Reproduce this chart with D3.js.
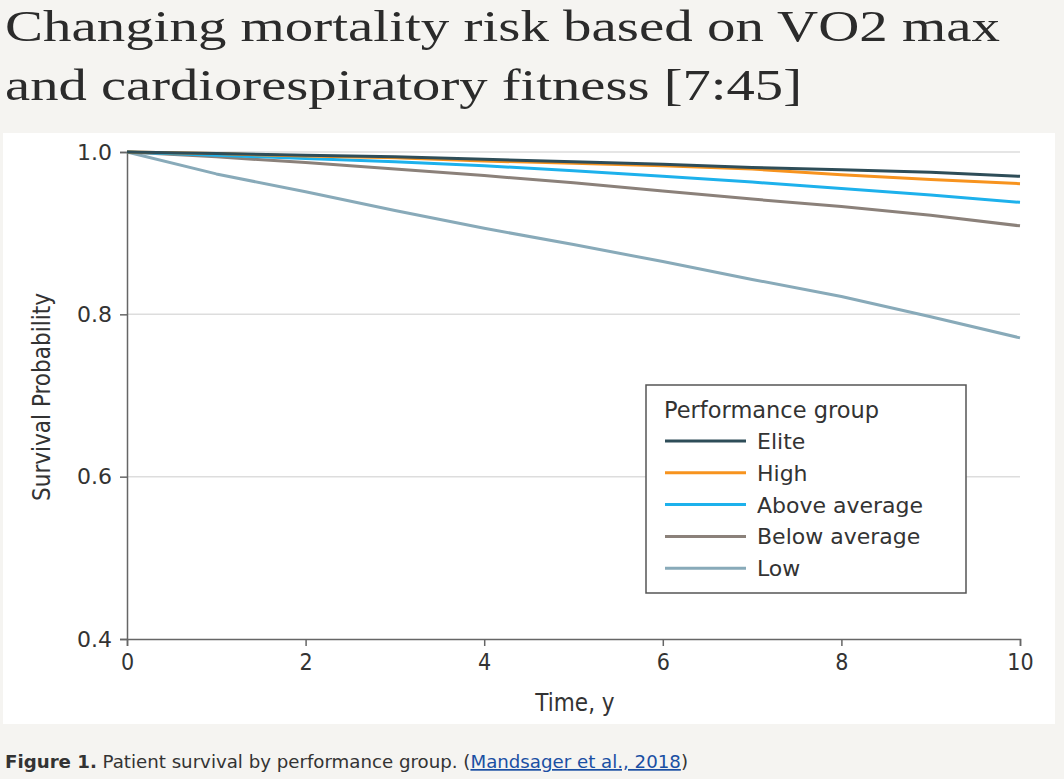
<!DOCTYPE html>
<html><head><meta charset="utf-8">
<script src="https://cdn.jsdelivr.net/npm/d3@7"></script>
<style>body{margin:0;background:#f5f4f1;}svg{display:block;}</style>
</head><body>
<svg id="chart" width="1064" height="779"></svg>
<script>
const titleLines = ["Changing mortality risk based on VO2 max", "and cardiorespiratory fitness [7:45]"];
const years = [0, 1, 2, 3, 4, 5, 6, 7, 8, 9, 10];
const groups = ["Elite", "High", "Above average", "Below average", "Low"];
const colors = ["#2e4d58", "#f7931e", "#1db1ec", "#8b817a", "#88aab9"];
const elite = [1.0, 0.998, 0.996, 0.994, 0.991, 0.988, 0.985, 0.981, 0.978, 0.975, 0.970];
const high  = [1.0, 0.998, 0.995, 0.993, 0.989, 0.986, 0.983, 0.979, 0.972, 0.966, 0.961];
const above = [1.0, 0.996, 0.992, 0.988, 0.983, 0.977, 0.970, 0.963, 0.955, 0.947, 0.938];
const below = [1.0, 0.994, 0.987, 0.979, 0.971, 0.962, 0.952, 0.942, 0.933, 0.922, 0.909];
const low   = [1.0, 0.973, 0.951, 0.928, 0.906, 0.886, 0.865, 0.843, 0.822, 0.797, 0.771];
const seriesValues = [elite, high, above, below, low];
const xTicks = [0, 2, 4, 6, 8, 10];
const yTicks = [0.4, 0.6, 0.8, 1.0];

const svg = d3.select("#chart");
svg.append("rect").attr("x",0).attr("y",0).attr("width",1064).attr("height",779).attr("fill","#f5f4f1");
svg.append("rect").attr("x",3).attr("y",133).attr("width",1052).attr("height",591).attr("fill","#ffffff");

// title
titleLines.forEach((t,i)=>{
  svg.append("text").attr("x",5).attr("y",[41,100][i])
    .attr("font-family","Liberation Serif, serif").attr("font-size",45)
    .attr("fill","#2b2b2b")
    .attr("textLength", i===0 ? 995 : 797).attr("lengthAdjust","spacingAndGlyphs")
    .text(t);
});

const x = d3.scaleLinear().domain([0,10]).range([127,1020]);
const y = d3.scaleLinear().domain([0.4,1.0]).range([639,152]);

// grid
svg.append("g").selectAll("line").data(yTicks.filter(d=>d>0.4)).join("line")
  .attr("x1",x(0)).attr("x2",x(10)).attr("y1",d=>y(d)).attr("y2",d=>y(d))
  .attr("stroke","#dddddd").attr("stroke-width",1.5);

// axes
const yAxis = d3.axisLeft(y).tickValues(yTicks).tickFormat(d3.format(".1f")).tickSize(7).tickPadding(8);
const gy = svg.append("g").attr("transform",`translate(${x(0)},0)`).call(yAxis);
gy.select(".domain").attr("stroke","#666").attr("stroke-width",1.5);
gy.selectAll(".tick line").attr("stroke","#666").attr("stroke-width",1.5);
gy.selectAll(".tick text").attr("font-family","DejaVu Sans, sans-serif").attr("font-size",22).attr("fill","#333");

const xAxis = d3.axisBottom(x).tickValues(xTicks).tickFormat(d3.format("d")).tickSize(7).tickPadding(8);
const gx = svg.append("g").attr("transform",`translate(0,${y(0.4)})`).call(xAxis);
gx.select(".domain").attr("stroke","#666").attr("stroke-width",1.5);
gx.selectAll(".tick line").attr("stroke","#666").attr("stroke-width",1.5);
gx.selectAll(".tick text").attr("font-family","DejaVu Sans Condensed, sans-serif").attr("font-size",23).attr("fill","#333");

svg.append("text").attr("x",575).attr("y",711).attr("text-anchor","middle")
  .attr("font-family","DejaVu Sans Condensed, sans-serif").attr("font-size",24).attr("fill","#333").text("Time, y");
svg.append("text").attr("transform","translate(50,397) rotate(-90)").attr("text-anchor","middle")
  .attr("font-family","DejaVu Sans Condensed, sans-serif").attr("font-size",24).attr("fill","#333").text("Survival Probability");

// lines
const line = d3.line().x(d=>x(d[0])).y(d=>y(d[1]));
for (let i = groups.length-1; i >= 0; i--) {
  const pts = years.map((t,j)=>[t, seriesValues[i][j]]);
  svg.append("path").datum(pts).attr("d", line)
    .attr("fill","none").attr("stroke",colors[i]).attr("stroke-width",3).attr("stroke-linejoin","round");
}

// legend
const lg = svg.append("g");
lg.append("rect").attr("x",646).attr("y",385).attr("width",320).attr("height",208)
  .attr("fill","#fff").attr("stroke","#555").attr("stroke-width",1.5);
lg.append("text").attr("x",664).attr("y",418).attr("font-family","DejaVu Sans, sans-serif")
  .attr("font-size",22.5).attr("fill","#333").text("Performance group");
groups.forEach((g,i)=>{
  const yy = 441 + i*31.8;
  lg.append("line").attr("x1",665).attr("x2",746).attr("y1",yy).attr("y2",yy)
    .attr("stroke",colors[i]).attr("stroke-width",3);
  lg.append("text").attr("x",757).attr("y",yy+8).attr("font-family","DejaVu Sans, sans-serif")
    .attr("font-size",22).attr("fill","#333").text(g);
});

// caption
const cap = svg.append("text").attr("x",5).attr("y",768)
  .attr("font-family","DejaVu Sans Condensed, sans-serif").attr("font-size",17).attr("fill","#333")
  .attr("textLength",683).attr("lengthAdjust","spacingAndGlyphs");
cap.append("tspan").attr("font-weight","bold").text("Figure 1.");
cap.append("tspan").text(" Patient survival by performance group. (");
cap.append("tspan").attr("fill","#1a4fa3").attr("text-decoration","underline").text("Mandsager et al., 2018");
cap.append("tspan").text(")");
</script>
</body></html>
